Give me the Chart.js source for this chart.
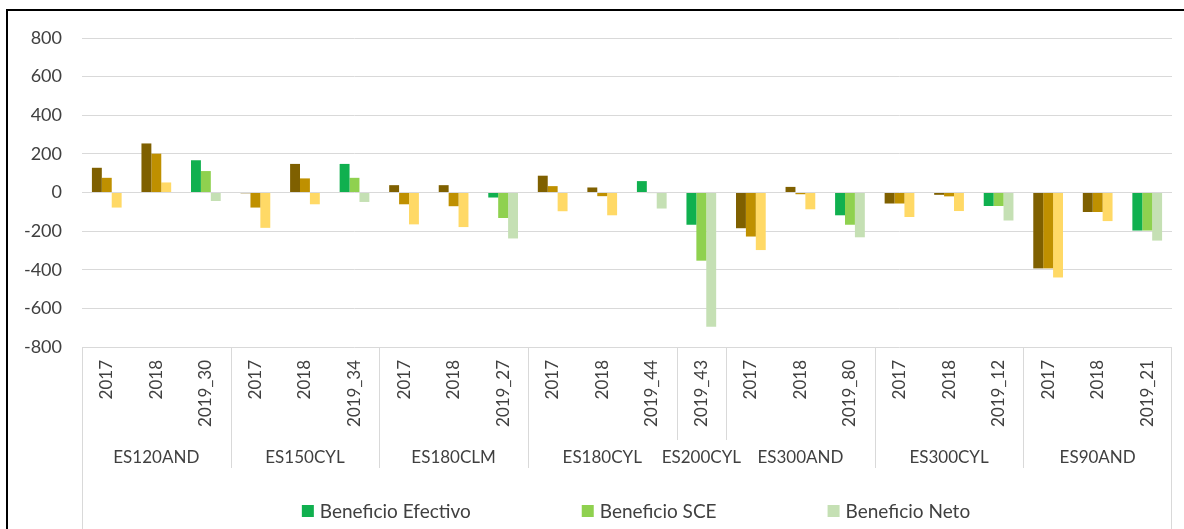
<!DOCTYPE html>
<html>
<head>
<meta charset="utf-8">
<script src="https://cdn.jsdelivr.net/npm/chart.js@4/dist/chart.umd.min.js"></script>
<style>
  html, body { margin: 0; padding: 0; background: #fff; }
  #wrap { width: 1184px; height: 529px; }
</style>
</head>
<body>
<div id="wrap"><canvas id="myChart" width="1184" height="529"></canvas></div>
<script>
// groups on the second axis row and how many periods each one holds
const groupNames = ["ES120AND", "ES150CYL", "ES180CLM", "ES180CYL", "ES200CYL", "ES300AND", "ES300CYL", "ES90AND"];
const groupSizes = [3, 3, 3, 3, 1, 3, 3, 3];

// first axis row
const periods = [
	"2017", "2018", "2019_30",
	"2017", "2018", "2019_34",
	"2017", "2018", "2019_27",
	"2017", "2018", "2019_44",
	"2019_43",
	"2017", "2018", "2019_80",
	"2017", "2018", "2019_12",
	"2017", "2018", "2019_21"
];

const seriesNames = ["Beneficio Efectivo", "Beneficio SCE", "Beneficio Neto"];

const efectivo = [128, 254, 167, -4, 148, 148, 38, 38, -26, 87, 26, 59, -167, -185, 29, -118, -57, -12, -70, -393, -101, -197];
const sce = [76, 201, 111, -78, 73, 76, -61, -71, -132, 33, -19, -3, -353, -228, -9, -167, -57, -20, -70, -393, -101, -197];
const neto = [-78, 52, -44, -183, -61, -49, -165, -179, -238, -97, -118, -83, -695, -298, -87, -232, -127, -96, -145, -440, -148, -249];

// 2019 bars use the series colour, older years use the brown palette
const greens = ["#10b04f", "#8fd14f", "#c5e0b4"];
const browns = ["#7f6000", "#bf9000", "#ffd966"];

function barColors(i) {
	return periods.map(p => (p.startsWith("2019") ? greens[i] : browns[i]));
}

Chart.defaults.font.family = "Lato";

const extras = {
	id: "extras",
	beforeDraw(chart) {
		const ctx = chart.ctx;
		ctx.save();
		ctx.fillStyle = "#fff";
		ctx.fillRect(0, 0, chart.width, chart.height);
		// black frame, top and left only
		ctx.fillStyle = "#000";
		ctx.fillRect(6, 9, 2, chart.height - 9);
		ctx.fillRect(6, 9, chart.width - 6, 2);
		ctx.restore();
	},
	afterDraw(chart) {
		const ctx = chart.ctx;
		const x = chart.scales.x;
		const area = chart.chartArea;
		const half = (x.getPixelForValue(1) - x.getPixelForValue(0)) / 2;

		ctx.save();
		ctx.strokeStyle = "#d9d9d9";
		ctx.lineWidth = 1;
		ctx.beginPath();
		ctx.moveTo(Math.round(area.left) + 0.5, area.bottom);
		ctx.lineTo(Math.round(area.left) + 0.5, chart.height);
		ctx.moveTo(Math.round(area.right) - 0.5, area.bottom);
		ctx.lineTo(Math.round(area.right) - 0.5, chart.height);

		ctx.font = "17px Lato";
		ctx.fillStyle = "#404040";
		ctx.textAlign = "center";
		ctx.textBaseline = "middle";
		let start = 0;
		groupNames.forEach((name, g) => {
			const end = start + groupSizes[g];
			const left = x.getPixelForValue(start) - half;
			const right = x.getPixelForValue(end - 1) + half;
			if (g < groupNames.length - 1) {
				// shorter divider where a one-period group name spills over it
				const short = groupSizes[g] === 1 || groupSizes[g + 1] === 1;
				const sx = Math.round(right) + 0.5;
				ctx.moveTo(sx, area.bottom);
				ctx.lineTo(sx, area.bottom + (short ? 93 : 121));
			}
			ctx.fillText(name, (left + right) / 2, area.bottom + 111);
			start = end;
		});
		ctx.stroke();

		// legend
		ctx.font = "19px Lato";
		ctx.textAlign = "left";
		const box = 12, gapText = 6, gapItem = 111;
		const widths = seriesNames.map(n => ctx.measureText(n).width);
		const total = widths.reduce((a, w) => a + box + gapText + w, 0) + gapItem * (seriesNames.length - 1);
		let lx = (area.left + area.right) / 2 + 9 - total / 2;
		const ly = 511;
		seriesNames.forEach((n, i) => {
			ctx.fillStyle = greens[i];
			ctx.fillRect(lx, ly - box / 2, box, box);
			ctx.fillStyle = "#404040";
			ctx.fillText(n, lx + box + gapText, ly + 1);
			lx += box + gapText + widths[i] + gapItem;
		});
		ctx.restore();
	}
};

const ctx = document.getElementById("myChart").getContext("2d");
const myChart = new Chart(ctx, {
	type: "bar",
	data: {
		labels: periods,
		datasets: [
			{ label: seriesNames[0], data: efectivo, backgroundColor: barColors(0) },
			{ label: seriesNames[1], data: sce, backgroundColor: barColors(1) },
			{ label: seriesNames[2], data: neto, backgroundColor: barColors(2) }
		]
	},
	options: {
		responsive: false,
		devicePixelRatio: 1,
		animation: false,
		categoryPercentage: 0.6,
		barPercentage: 1.0,
		layout: { padding: { left: 0, top: 38, right: 12, bottom: 0 } },
		plugins: {
			legend: { display: false },
			tooltip: { enabled: false }
		},
		scales: {
			x: {
				grid: { display: false, drawTicks: false },
				border: { display: false },
				ticks: {
					autoSkip: false,
					minRotation: 90,
					maxRotation: 90,
					padding: 13,
					color: "#404040",
					font: { size: 17 }
				},
				afterFit(scale) {
					scale.height = 182;
				}
			},
			y: {
				min: -800,
				max: 800,
				grid: { color: "#d9d9d9", drawTicks: false },
				border: { display: false },
				ticks: {
					stepSize: 200,
					padding: 20,
					color: "#404040",
					font: { size: 18 }
				},
				afterFit(scale) {
					scale.width = 82;
				}
			}
		}
	},
	plugins: [extras]
});
</script>
</body>
</html>
